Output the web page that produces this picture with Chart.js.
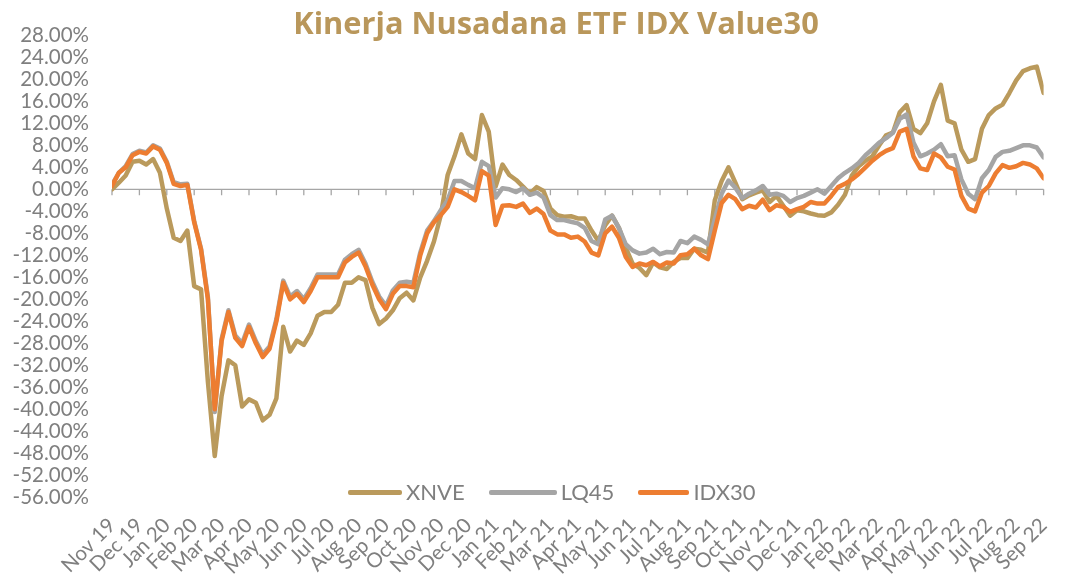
<!DOCTYPE html>
<html>
<head>
<meta charset="utf-8">
<script src="https://cdn.jsdelivr.net/npm/chart.js@4"></script>
<style>
  html, body { margin: 0; padding: 0; background: #fff; }
  #wrap { position: relative; width: 1077px; height: 580px; }
  #title {
    position: absolute; left: 556px; top: 3px; transform: translateX(-50%);
    white-space: nowrap; font: bold 30.8px "Open Sans", sans-serif; line-height: 38px; color: #B9975B;
  }
  #legend {
    position: absolute; left: 348px; top: 479px; display: flex; align-items: center;
    font: 22px Lato, sans-serif; color: #7f7f7f; line-height: 26px;
  }
  #legend .item { display: flex; align-items: center; margin-right: 24px; }
  #legend .swatch { height: 5px; border-radius: 2px; margin-right: 4px; }
</style>
</head>
<body>
<div id="wrap">
  <canvas id="chart"></canvas>
  <div id="title">Kinerja Nusadana ETF IDX Value30</div>
  <div id="legend"></div>
</div>
<script>
// month tick labels (one tick per month, Nov 19 .. Sep 22)
const monthLabels = [
  "Nov 19", "Dec 19",
  "Jan 20", "Feb 20", "Mar 20", "Apr 20", "May 20", "Jun 20", "Jul 20", "Aug 20", "Sep 20", "Oct 20", "Nov 20", "Dec 20",
  "Jan 21", "Feb 21", "Mar 21", "Apr 21", "May 21", "Jun 21", "Jul 21", "Aug 21", "Sep 21", "Oct 21", "Nov 21", "Dec 21",
  "Jan 22", "Feb 22", "Mar 22", "Apr 22", "May 22", "Jun 22", "Jul 22", "Aug 22", "Sep 22"
];

// weekly readings (4 per month), cumulative return in %
const xnve = [
  0.0, 1.2, 2.5, 5.0, 5.2, 4.5, 5.5, 3.0, -3.5, -8.8,
  -9.4, -7.5, -17.6, -18.2, -35.0, -48.5, -37.6, -31.1, -32.0, -39.5,
  -38.2, -38.8, -42.0, -41.0, -38.0, -25.0, -29.5, -27.5, -28.3, -26.2,
  -23.0, -22.3, -22.3, -21.0, -17.0, -17.0, -16.0, -16.5, -21.5, -24.5,
  -23.5, -22.0, -19.8, -18.8, -20.2, -16.0, -13.0, -9.5, -4.7, 2.6,
  6.0, 10.0, 6.5, 5.5, 13.5, 10.5, 0.5, 4.5, 2.6, 1.7,
  0.5, -0.8, 0.4, -0.3, -3.5, -4.7, -5.0, -4.9, -5.3, -5.3,
  -7.5, -9.4, -6.5, -4.8, -7.0, -10.6, -13.5, -14.3, -15.6, -13.3,
  -14.2, -14.5, -13.2, -12.5, -12.5, -10.8, -11.0, -11.5, -2.0, 1.5,
  4.0, 1.2, -1.8, -1.1, -0.6, -0.2, -2.3, -1.2, -3.0, -4.8,
  -3.8, -4.0, -4.4, -4.7, -4.8, -4.2, -2.8, -1.0, 2.5, 4.2,
  5.2, 6.0, 8.0, 9.8, 10.3, 14.0, 15.3, 11.0, 10.2, 12.0,
  16.0, 19.0, 12.5, 12.0, 7.2, 5.0, 5.5, 11.0, 13.5, 14.7,
  15.4, 17.5, 19.8, 21.5, 22.0, 22.3, 17.5
];
const lq45 = [
  0.8, 3.0, 4.2, 6.4, 7.0, 6.7, 8.0, 7.4, 5.0, 1.3,
  0.9, 1.0, -5.8, -10.8, -19.6, -40.5, -27.2, -22.0, -26.6, -28.0,
  -24.6, -27.6, -30.0, -28.6, -23.6, -16.6, -19.5, -18.5, -20.0, -18.0,
  -15.5, -15.5, -15.5, -15.5, -12.8, -11.8, -11.0, -13.5, -16.8, -19.5,
  -21.2, -18.4, -17.0, -16.8, -17.0, -11.5, -7.5, -5.8, -3.8, -2.0,
  1.5, 1.5, 0.8, 0.2, 5.0, 4.2, -1.5, 0.2, 0.0, -0.5,
  0.2, -1.0, -0.6, -1.5, -4.7, -5.6, -5.6, -5.9, -6.2, -7.0,
  -9.4, -10.0, -5.5, -4.8, -7.0, -10.0, -11.1, -11.7, -11.5, -10.8,
  -11.8, -11.4, -11.5, -9.4, -9.8, -8.6, -9.2, -10.0, -5.5, -0.8,
  1.6, 0.3, -1.6, -0.8, -0.2, 0.6, -1.0, -0.8, -1.2, -2.3,
  -1.6, -1.2, -0.6, 0.0, -0.8, 0.6, 2.0, 3.0, 3.8, 4.8,
  6.2, 7.3, 8.5, 9.3, 10.3, 12.8, 13.6, 8.5, 6.0, 6.5,
  7.2, 8.2, 6.0, 6.2, 1.8, -0.8, -1.8, 2.0, 3.5, 5.9,
  6.8, 7.0, 7.5, 8.0, 8.0, 7.6, 5.8
];
const idx30 = [
  0.6, 3.0, 4.0, 6.2, 6.8, 6.5, 7.8, 7.2, 4.8, 1.0,
  0.6, 0.8, -6.0, -11.0, -20.0, -40.0, -27.6, -22.3, -27.0, -28.5,
  -25.0, -28.0, -30.5, -29.0, -24.0, -17.0, -20.0, -19.0, -20.5, -18.5,
  -16.0, -16.0, -16.0, -16.0, -13.3, -12.3, -11.5, -14.0, -17.3, -20.0,
  -21.8, -19.0, -17.6, -17.6, -17.8, -12.0, -8.0, -6.0, -4.7, -3.2,
  0.0, -0.5, -1.2, -2.0, 3.3, 2.5, -6.5, -3.0, -2.9, -3.2,
  -2.6, -4.3, -3.5, -4.5, -7.5, -8.2, -8.2, -8.8, -8.6, -9.5,
  -11.5, -12.0, -8.0, -6.8, -8.8, -12.3, -14.1, -13.5, -13.8, -13.2,
  -14.0, -13.3, -13.5, -12.0, -11.8, -10.8, -12.0, -12.7, -7.5, -2.5,
  -1.0, -1.8, -3.6, -3.0, -3.3, -1.9, -3.8, -2.9, -3.2, -4.1,
  -3.6, -3.2, -2.3, -2.6, -2.6, -1.2, 0.4, 1.0, 1.8, 2.8,
  4.0, 5.2, 6.2, 7.0, 7.5, 10.5, 11.0, 6.0, 3.8, 3.5,
  6.5, 5.8, 4.1, 3.6, -1.2, -3.5, -4.0, -0.6, 0.6, 2.9,
  4.4, 3.9, 4.2, 4.8, 4.5, 3.8, 2.0
];

const POINTS_PER_MONTH = 4;
const toXY = arr => arr.map((v, i) => ({ x: i / POINTS_PER_MONTH, y: v }));

Chart.defaults.font.family = "Lato, sans-serif";
Chart.defaults.color = "#7f7f7f";

// horizontal axis line at 0% with small month ticks hanging below it
const zeroAxis = {
  id: "zeroAxis",
  beforeDatasetsDraw(chart) {
    const { ctx, chartArea, scales } = chart;
    const y0 = scales.y.getPixelForValue(0);
    ctx.save();
    ctx.strokeStyle = "#a6a6a6";
    ctx.lineWidth = 1.3;
    ctx.beginPath();
    ctx.moveTo(chartArea.left, y0);
    ctx.lineTo(chartArea.right, y0);
    scales.x.ticks.forEach(t => {
      const px = scales.x.getPixelForValue(t.value);
      ctx.moveTo(px, y0);
      ctx.lineTo(px, y0 + 6);
    });
    ctx.stroke();
    ctx.restore();
  }
};

const chart = new Chart(document.getElementById("chart"), {
  type: "line",
  data: {
    datasets: [
      { label: "XNVE", data: toXY(xnve), borderColor: "#BA9A5C", order: 2 },
      { label: "LQ45", data: toXY(lq45), borderColor: "#A5A5A5", order: 1 },
      { label: "IDX30", data: toXY(idx30), borderColor: "#ED7D31", order: 0 }
    ]
  },
  options: {
    responsive: true,
    maintainAspectRatio: false,
    animation: false,
    elements: {
      line: { borderWidth: 4.5, tension: 0, borderJoinStyle: "round", borderCapStyle: "round" },
      point: { radius: 0, hoverRadius: 0 }
    },
    layout: { padding: { top: 20.7, right: 7, left: 0, bottom: 0 } },
    plugins: { legend: { display: false }, title: { display: false }, tooltip: { enabled: false } },
    scales: {
      x: {
        type: "linear",
        min: 0,
        max: monthLabels.length - 1,
        grid: { display: false, drawTicks: false },
        border: { display: false },
        afterFit: s => { s.height = 82.7; },
        ticks: {
          stepSize: 1,
          autoSkip: false,
          minRotation: 45,
          maxRotation: 45,
          padding: 16,
          font: { size: 20.5 },
          callback: v => monthLabels[v]
        }
      },
      y: {
        min: -56,
        max: 28,
        grid: { display: false, drawTicks: false },
        border: { display: false },
        afterFit: s => { s.width = 112; },
        ticks: {
          stepSize: 4,
          autoSkip: false,
          padding: 23,
          font: { size: 20.5 },
          callback: v => v.toFixed(2) + "%"
        }
      }
    }
  },
  plugins: [zeroAxis]
});

// html legend built from the datasets (swatch lengths as in the original)
const swatchWidths = [54, 68, 51];
const legendEl = document.getElementById("legend");
chart.data.datasets.forEach((ds, i) => {
  const item = document.createElement("div");
  item.className = "item";
  item.innerHTML = `<span class="swatch" style="width:${swatchWidths[i]}px;background:${ds.borderColor}"></span><span>${ds.label}</span>`;
  legendEl.appendChild(item);
});
</script>
</body>
</html>
